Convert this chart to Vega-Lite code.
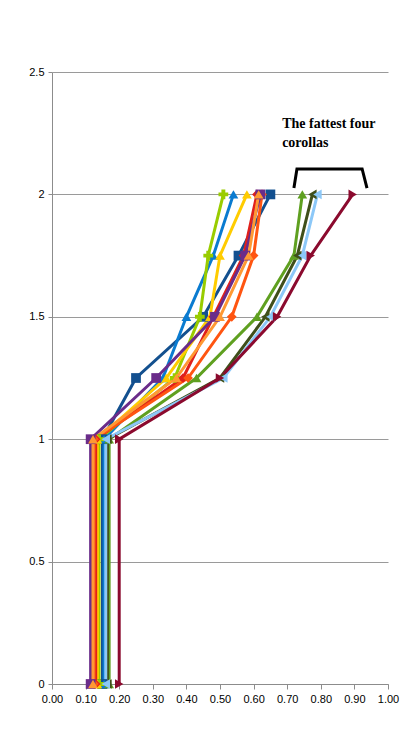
{
  "$schema": "https://vega.github.io/schema/vega-lite/v6.json",
  "width": 336,
  "height": 612,
  "autosize": "none",
  "padding": {"left": 52, "top": 72, "right": 30, "bottom": 57},
  "background": "white",
  "config": {
    "view": {"stroke": null},
    "axis": {"labelFont": "Liberation Sans", "labelFontSize": 11, "labelColor": "black", "domainColor": "#8c8c8c", "tickColor": "#8c8c8c", "title": null}
  },
  "datasets": {
    "corollas": [
      {"s": "s01", "y": 0, "x": 0.150}, {"s": "s01", "y": 1, "x": 0.150}, {"s": "s01", "y": 1.25, "x": 0.250}, {"s": "s01", "y": 1.5, "x": 0.450}, {"s": "s01", "y": 1.75, "x": 0.555}, {"s": "s01", "y": 2, "x": 0.650},
      {"s": "s02", "y": 0, "x": 0.155}, {"s": "s02", "y": 1, "x": 0.155}, {"s": "s02", "y": 1.25, "x": 0.330}, {"s": "s02", "y": 1.5, "x": 0.400}, {"s": "s02", "y": 1.75, "x": 0.480}, {"s": "s02", "y": 2, "x": 0.540},
      {"s": "s03", "y": 0, "x": 0.140}, {"s": "s03", "y": 1, "x": 0.140}, {"s": "s03", "y": 1.25, "x": 0.365}, {"s": "s03", "y": 1.5, "x": 0.440}, {"s": "s03", "y": 1.75, "x": 0.465}, {"s": "s03", "y": 2, "x": 0.510},
      {"s": "s04", "y": 0, "x": 0.135}, {"s": "s04", "y": 1, "x": 0.135}, {"s": "s04", "y": 1.25, "x": 0.340}, {"s": "s04", "y": 1.5, "x": 0.470}, {"s": "s04", "y": 1.75, "x": 0.500}, {"s": "s04", "y": 2, "x": 0.580},
      {"s": "s05", "y": 0, "x": 0.130}, {"s": "s05", "y": 1, "x": 0.130}, {"s": "s05", "y": 1.25, "x": 0.390}, {"s": "s05", "y": 1.5, "x": 0.480}, {"s": "s05", "y": 1.75, "x": 0.570}, {"s": "s05", "y": 2, "x": 0.610},
      {"s": "s06", "y": 0, "x": 0.125}, {"s": "s06", "y": 1, "x": 0.125}, {"s": "s06", "y": 1.25, "x": 0.405}, {"s": "s06", "y": 1.5, "x": 0.535}, {"s": "s06", "y": 1.75, "x": 0.600}, {"s": "s06", "y": 2, "x": 0.625},
      {"s": "s07", "y": 0, "x": 0.115}, {"s": "s07", "y": 1, "x": 0.115}, {"s": "s07", "y": 1.25, "x": 0.310}, {"s": "s07", "y": 1.5, "x": 0.485}, {"s": "s07", "y": 1.75, "x": 0.575}, {"s": "s07", "y": 2, "x": 0.620},
      {"s": "s08", "y": 0, "x": 0.122}, {"s": "s08", "y": 1, "x": 0.122}, {"s": "s08", "y": 1.25, "x": 0.370}, {"s": "s08", "y": 1.5, "x": 0.500}, {"s": "s08", "y": 1.75, "x": 0.585}, {"s": "s08", "y": 2, "x": 0.615},
      {"s": "s09", "y": 0, "x": 0.170}, {"s": "s09", "y": 1, "x": 0.170}, {"s": "s09", "y": 1.25, "x": 0.430}, {"s": "s09", "y": 1.5, "x": 0.610}, {"s": "s09", "y": 1.75, "x": 0.720}, {"s": "s09", "y": 2, "x": 0.745},
      {"s": "s10", "y": 0, "x": 0.165}, {"s": "s10", "y": 1, "x": 0.165}, {"s": "s10", "y": 1.25, "x": 0.500}, {"s": "s10", "y": 1.5, "x": 0.635}, {"s": "s10", "y": 1.75, "x": 0.730}, {"s": "s10", "y": 2, "x": 0.775},
      {"s": "s11", "y": 0, "x": 0.160}, {"s": "s11", "y": 1, "x": 0.160}, {"s": "s11", "y": 1.25, "x": 0.510}, {"s": "s11", "y": 1.5, "x": 0.650}, {"s": "s11", "y": 1.75, "x": 0.745}, {"s": "s11", "y": 2, "x": 0.790},
      {"s": "s12", "y": 0, "x": 0.200}, {"s": "s12", "y": 1, "x": 0.200}, {"s": "s12", "y": 1.25, "x": 0.500}, {"s": "s12", "y": 1.5, "x": 0.670}, {"s": "s12", "y": 1.75, "x": 0.770}, {"s": "s12", "y": 2, "x": 0.895}
    ],
    "bracket": [
      {"i": 1, "x": 0.720, "y": 2.026},
      {"i": 2, "x": 0.729, "y": 2.104},
      {"i": 3, "x": 0.923, "y": 2.104},
      {"i": 4, "x": 0.9375, "y": 2.026}
    ],
    "note": [
      {"x": 0.685, "y": 2.271, "label": "The fattest four"},
      {"x": 0.685, "y": 2.194, "label": "corollas"}
    ]
  },
  "encoding": {
    "x": {
      "field": "x", "type": "quantitative",
      "scale": {"domain": [0, 1], "nice": false, "zero": false},
      "axis": {"values": [0, 0.1, 0.2, 0.3, 0.4, 0.5, 0.6, 0.7, 0.8, 0.9, 1.0], "format": ".2f", "grid": false, "tickSize": 5, "labelPadding": 4, "labelFlush": false}
    },
    "y": {
      "field": "y", "type": "quantitative",
      "scale": {"domain": [0, 2.5], "nice": false},
      "axis": {"values": [0, 0.5, 1, 1.5, 2, 2.5], "format": "~g", "grid": true, "gridColor": "#9a9a9a", "tickSize": 4, "labelPadding": 4, "labelFlush": false}
    }
  },
  "layer": [
    {
      "data": {"name": "corollas"},
      "mark": {"type": "line", "strokeWidth": 3},
      "encoding": {
        "order": {"field": "y", "type": "quantitative"},
        "color": {
          "field": "s", "type": "nominal", "legend": null,
          "scale": {
            "domain": ["s01", "s02", "s03", "s04", "s05", "s06", "s07", "s08", "s09", "s10", "s11", "s12"],
            "range": ["#13508F", "#0A7BD0", "#99CC00", "#FFCC00", "#E0201B", "#FF5511", "#6A2C8A", "#FF9933", "#5FA020", "#3F4F1A", "#8CC8F8", "#8B0A2E"]
          }
        }
      }
    },
    {
      "data": {"name": "corollas"},
      "mark": {"type": "point", "filled": true, "opacity": 1, "size": 95},
      "encoding": {
        "color": {"field": "s", "type": "nominal", "legend": null},
        "shape": {
          "field": "s", "type": "nominal", "legend": null,
          "scale": {
            "domain": ["s01", "s02", "s03", "s04", "s05", "s06", "s07", "s08", "s09", "s10", "s11", "s12"],
            "range": ["square", "triangle-up", "cross", "triangle-up", "diamond", "diamond", "square", "triangle-up", "triangle-up", "triangle-left", "triangle-left", "triangle-right"]
          }
        }
      }
    },
    {
      "data": {"name": "bracket"},
      "mark": {"type": "line", "color": "black", "strokeWidth": 3},
      "encoding": {"order": {"field": "i", "type": "quantitative"}}
    },
    {
      "data": {"name": "note"},
      "mark": {"type": "text", "font": "Liberation Serif", "fontSize": 14, "fontWeight": "bold", "align": "left", "baseline": "alphabetic", "color": "black"},
      "encoding": {"text": {"field": "label", "type": "nominal"}}
    }
  ]
}
